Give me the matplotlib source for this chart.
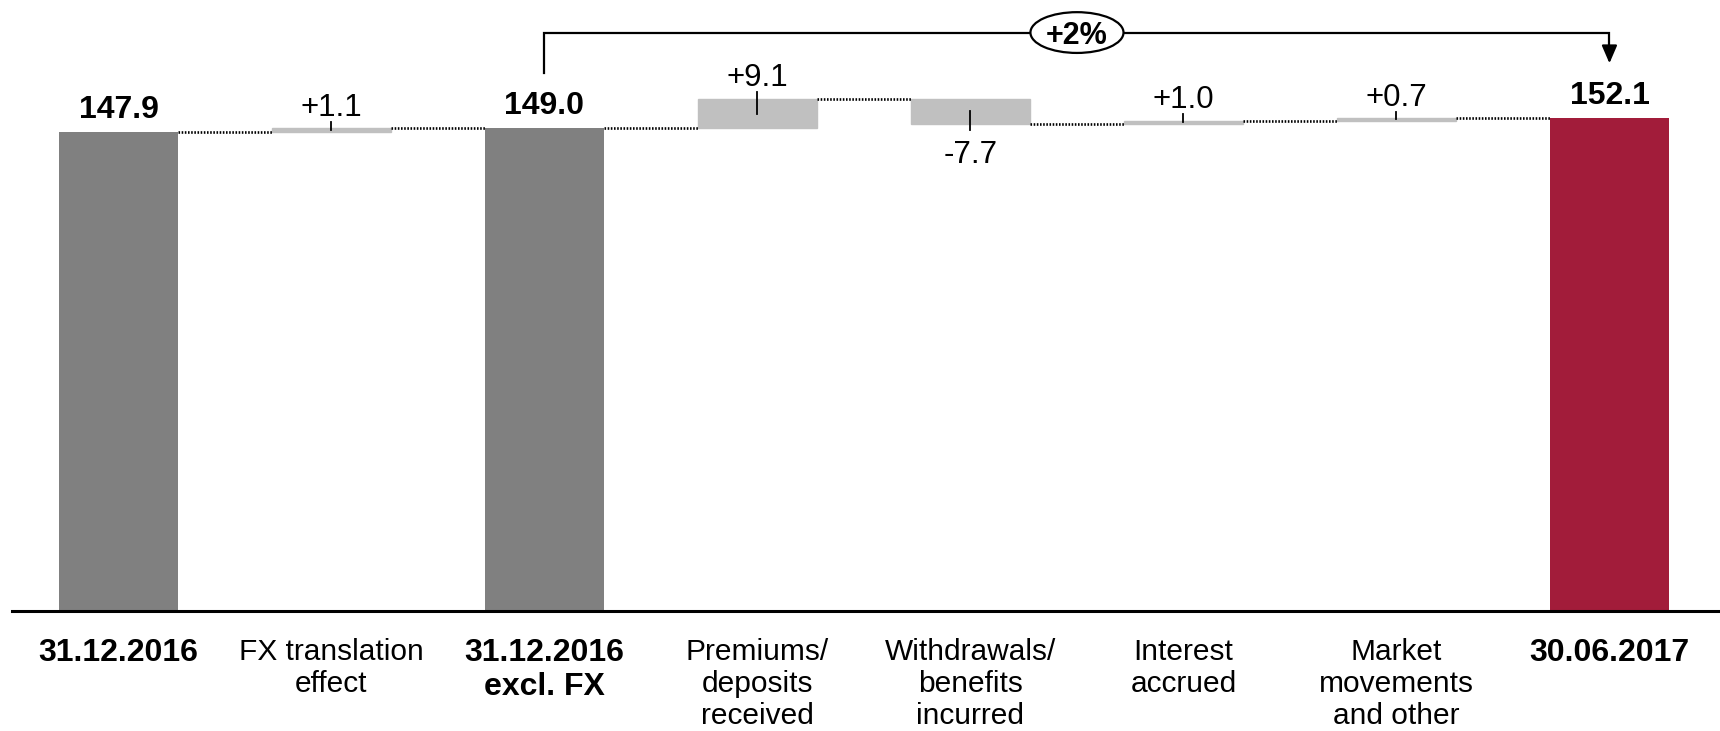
import matplotlib
matplotlib.use("Agg")
import matplotlib.pyplot as plt
from matplotlib.patches import Ellipse

plt.rcParams["font.family"] = ["Liberation Sans", "DejaVu Sans"]

categories = ["31.12.2016", "FX translation\neffect", "31.12.2016\nexcl. FX",
              "Premiums/\ndeposits\nreceived", "Withdrawals/\nbenefits\nincurred",
              "Interest\naccrued", "Market\nmovements\nand other", "30.06.2017"]
values = [147.9, 1.1, 149.0, 9.1, -7.7, 1.0, 0.7, 152.1]
is_total = [True, False, True, False, False, False, False, True]
value_labels = ["147.9", "+1.1", "149.0", "+9.1", "-7.7", "+1.0", "+0.7", "152.1"]
growth_from, growth_to, growth_label = 2, 7, "+2%"

dark = "#808080"
light = "#c0c0c0"
red = "#a21c3a"

fig = plt.figure(figsize=(17.2, 7.31), dpi=100)
ax = fig.add_axes([12 / 1720, 120.5 / 731, 1 - 12 / 1720, 610.5 / 731])
ax.set_xlim(-0.5, 7.519)
ax.set_ylim(0, 188.66)
ax.axis("off")
ax.axhline(0, color="black", lw=2.2, clip_on=False)

w = 0.56
bottoms, tops, ends = [], [], []
run = 0.0
for v, tot in zip(values, is_total):
    if tot:
        b, t, run = 0.0, v, v
    else:
        b, t = min(run, run + v), max(run, run + v)
        run = run + v
    bottoms.append(b)
    tops.append(t)
    ends.append(run)

for i, (v, tot) in enumerate(zip(values, is_total)):
    if tot:
        col = red if i == len(values) - 1 else dark
        ax.bar(i, tops[i] - bottoms[i], bottom=bottoms[i], width=w, color=col, lw=0)
    else:
        # thin same-colour edge keeps the small moves visible, as in the source
        ax.bar(i, tops[i] - bottoms[i], bottom=bottoms[i], width=w, color=light,
               edgecolor=light, lw=1.0)

    if tot:
        ax.annotate(value_labels[i], (i, tops[i]), xytext=(0, 10), textcoords="offset points",
                    ha="center", va="baseline", fontsize=23, fontweight="bold")
    else:
        mid = (tops[i] + bottoms[i]) / 2
        if v >= 0:
            ax.plot([i, i], [mid, tops[i] + 2], color="black", lw=1.3)
            ax.annotate(value_labels[i], (i, tops[i]), xytext=(0, 9), textcoords="offset points",
                        ha="center", va="baseline", fontsize=22.5)
        else:
            ax.plot([i, i], [mid, bottoms[i] - 2], color="black", lw=1.3)
            ax.annotate(value_labels[i], (i, bottoms[i]), xytext=(0, -11.5), textcoords="offset points",
                        ha="center", va="top", fontsize=22.5)

# dotted connectors
for i in range(len(values) - 1):
    ax.plot([i + w / 2, i + 1 - w / 2], [ends[i], ends[i]], color="black", lw=1.9,
            ls=(0, (0.6, 0.6)))

# category labels
for i, cat in enumerate(categories):
    ax.annotate(cat, (i, 0), xycoords=("data", "axes fraction"), xytext=(0, -19.5),
                textcoords="offset points", ha="center", va="top",
                fontsize=23 if is_total[i] else 21.5,
                fontweight="bold" if is_total[i] else "normal")

# growth bracket
yb = 178.6
ax.plot([growth_from, growth_from, growth_to, growth_to], [166.0, yb, yb, 174.0],
        color="black", lw=1.6, solid_joinstyle="miter", clip_on=False)
ax.annotate("", xy=(growth_to, 169.1), xytext=(growth_to, 174.2),
            arrowprops=dict(arrowstyle="-|>,head_length=0.72,head_width=0.31",
                            mutation_scale=15, color="black", lw=1.6,
                            shrinkA=0, shrinkB=0))
xm = (growth_from + growth_to) / 2
ax.add_patch(Ellipse((xm, yb), 0.437, 12.6, facecolor="white", edgecolor="black",
                     lw=1.6, zorder=5, clip_on=False))
ax.text(xm, yb, growth_label, ha="center", va="center_baseline", fontsize=22,
        fontweight="bold", zorder=6)

fig.savefig("out.png", dpi=100, facecolor="white")
